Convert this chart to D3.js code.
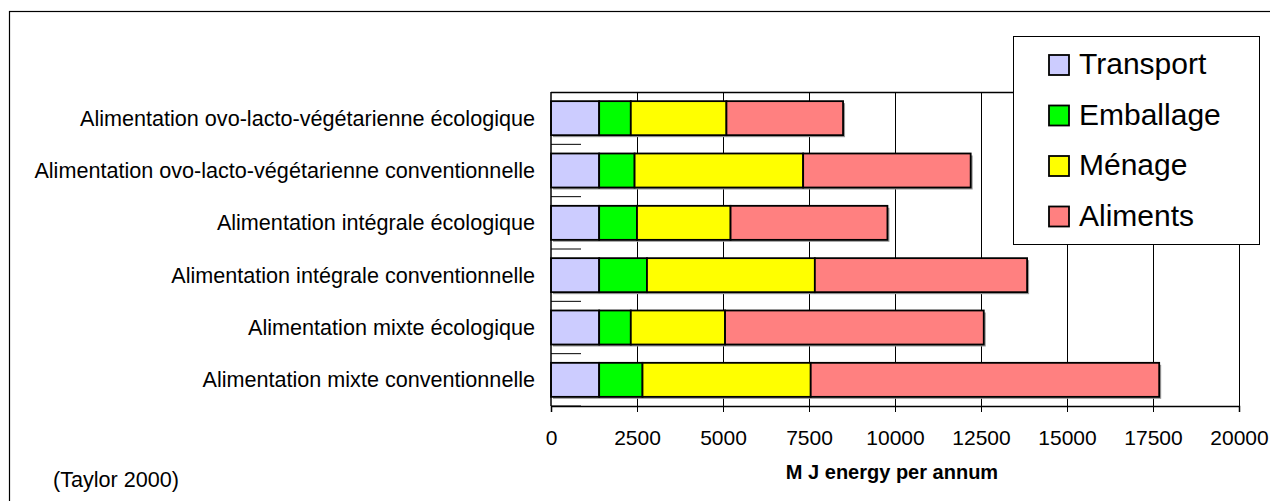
<!DOCTYPE html>
<html>
<head>
<meta charset="utf-8">
<script src="https://cdn.jsdelivr.net/npm/d3@7"></script>
<style>
  body { margin: 0; background: #fff; }
  text { font-family: "Liberation Sans", Arial, sans-serif; fill: #000; }
</style>
</head>
<body>
<svg id="chart" width="1270" height="501"></svg>
<script>
// categories, top to bottom
let categories = [
    "Alimentation ovo-lacto-végétarienne écologique",
    "Alimentation ovo-lacto-végétarienne conventionnelle",
    "Alimentation intégrale écologique",
    "Alimentation intégrale conventionnelle",
    "Alimentation mixte écologique",
    "Alimentation mixte conventionnelle"
]
// MJ per annum for each part
let transport = [1400, 1400, 1400, 1400, 1400, 1400]
let emballage = [920, 1030, 1100, 1390, 920, 1260]
let menage    = [2780, 4900, 2720, 4880, 2740, 4890]
let aliments  = [3390, 4870, 4560, 6170, 7520, 10130]

let seriesNames = ["Transport", "Emballage", "Ménage", "Aliments"]
let seriesColors = ["#ccccff", "#00ff00", "#ffff00", "#ff8080"]
let tickValues = [0, 2500, 5000, 7500, 10000, 12500, 15000, 17500, 20000]

// plot area
let plotLeft = 551
let plotRight = 1239
let plotTop = 92
let plotBottom = 406

let svg = d3.select("#chart")

// outer frame (runs off the picture on the right and bottom)
svg.append("rect")
    .attr("x", 9.5).attr("y", 11.5)
    .attr("width", 1300).attr("height", 540)
    .attr("fill", "#fff").attr("stroke", "#000").attr("stroke-width", 1.2)

let table = categories.map((c, i) => ({
    cat: c,
    Transport: transport[i],
    Emballage: emballage[i],
    "Ménage": menage[i],
    Aliments: aliments[i]
}))
let stacked = d3.stack().keys(seriesNames)(table)

let xscale = d3.scaleLinear().domain([0, 20000]).range([plotLeft, plotRight])
let yscale = d3.scaleBand().domain(categories).range([plotTop, plotBottom])
    .paddingInner(0.35).paddingOuter(0.175)

// gridlines
svg.append("g").selectAll("line")
    .data(tickValues.slice(1))
    .enter().append("line")
    .attr("x1", d => xscale(d) + 0.5).attr("x2", d => xscale(d) + 0.5)
    .attr("y1", plotTop).attr("y2", plotBottom)
    .attr("stroke", "#000").attr("stroke-width", 1)

// top border of the plot area
svg.append("line")
    .attr("x1", plotLeft).attr("x2", plotRight)
    .attr("y1", plotTop + 0.5).attr("y2", plotTop + 0.5)
    .attr("stroke", "#000").attr("stroke-width", 1.3)

// category tick marks on the vertical axis
let step = yscale.step()
svg.append("g").selectAll("line")
    .data(d3.range(1, categories.length + 1))
    .enter().append("line")
    .attr("x1", plotLeft).attr("x2", plotLeft + 30)
    .attr("y1", d => plotTop + d * step).attr("y2", d => plotTop + d * step)
    .attr("stroke", "#000")

// bar shadows
svg.append("g").selectAll("rect")
    .data(table)
    .enter().append("rect")
    .attr("x", xscale(0) + 2)
    .attr("y", d => yscale(d.cat) + 2)
    .attr("width", (d, i) => xscale(stacked[3][i][1]) - xscale(0))
    .attr("height", yscale.bandwidth())
    .attr("fill", "#9a9a9a")

// bars
svg.append("g").selectAll("g")
    .data(stacked)
    .enter().append("g")
    .attr("fill", (d, i) => seriesColors[i])
    .selectAll("rect")
    .data(d => d)
    .enter().append("rect")
    .attr("x", d => xscale(d[0]))
    .attr("y", d => yscale(d.data.cat))
    .attr("width", d => xscale(d[1]) - xscale(d[0]))
    .attr("height", yscale.bandwidth())
    .attr("stroke", "#000").attr("stroke-width", 1.8)

// horizontal axis
let xAxis = d3.axisBottom(xscale).tickValues(tickValues).tickSize(6).tickPadding(18).tickFormat(d3.format("d"))
let gx = svg.append("g").attr("transform", "translate(0," + plotBottom + ")").call(xAxis)
gx.select(".domain").attr("stroke", "#000").attr("stroke-width", 1.5)
gx.selectAll(".tick line").attr("stroke", "#000")
gx.selectAll("text").style("font-size", "21px").attr("font-family", null)

// vertical axis line
svg.append("line")
    .attr("x1", plotLeft).attr("x2", plotLeft)
    .attr("y1", plotTop).attr("y2", plotBottom)
    .attr("stroke", "#000").attr("stroke-width", 1.5)

// category labels
svg.append("g").selectAll("text")
    .data(categories)
    .enter().append("text")
    .attr("x", 535)
    .attr("y", d => yscale(d) + yscale.bandwidth() / 2)
    .attr("dy", "0.35em")
    .attr("text-anchor", "end")
    .style("font-size", "21.6px")
    .text(d => d)

// axis title
svg.append("text")
    .attr("x", 892).attr("y", 479)
    .attr("text-anchor", "middle")
    .style("font-size", "20px").style("font-weight", "bold")
    .text("M J energy per annum")

// source
svg.append("text")
    .attr("x", 53).attr("y", 487)
    .style("font-size", "21.6px")
    .text("(Taylor 2000)")

// legend
let legend = svg.append("g")
legend.append("rect")
    .attr("x", 1013.5).attr("y", 36.5).attr("width", 246).attr("height", 208)
    .attr("fill", "#fff").attr("stroke", "#000")
let items = legend.selectAll("g.item")
    .data(seriesNames)
    .enter().append("g").attr("class", "item")
    .attr("transform", (d, i) => "translate(1049," + (55 + i * 50.5) + ")")
items.append("rect")
    .attr("width", 20).attr("height", 20)
    .attr("fill", (d, i) => seriesColors[i])
    .attr("stroke", "#000").attr("stroke-width", 1.8)
items.append("text")
    .attr("x", 30).attr("y", 19)
    .style("font-size", "30px")
    .text(d => d)
</script>
</body>
</html>
